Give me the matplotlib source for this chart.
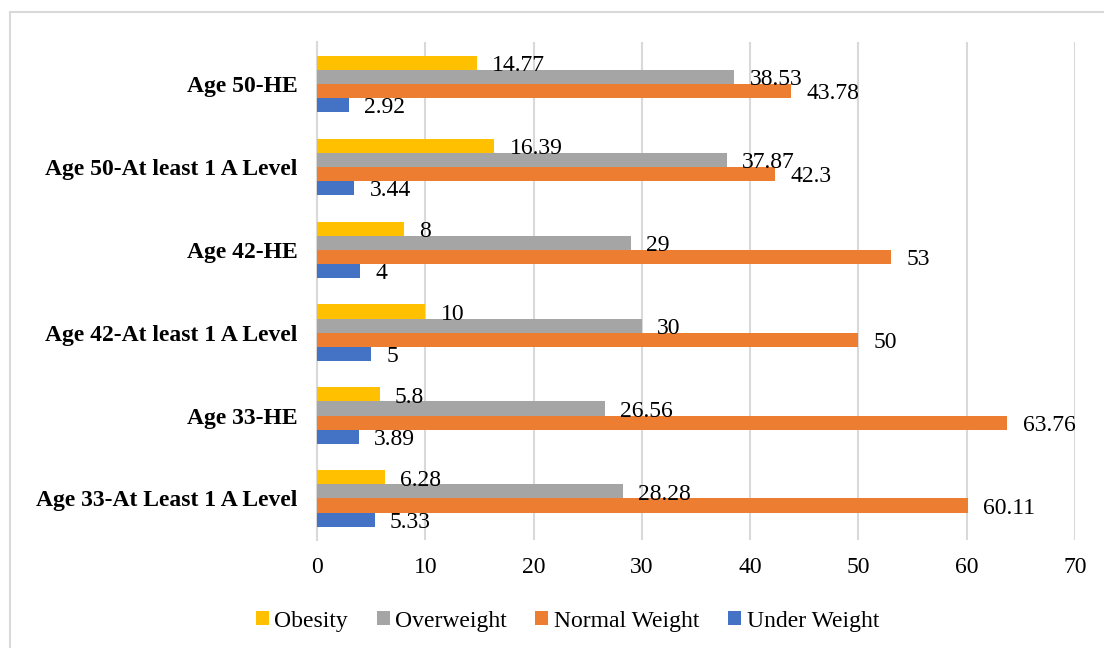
import matplotlib.pyplot as plt
import matplotlib.patches as mpatches
import numpy as np

plt.rcParams['font.family'] = ['Liberation Serif', 'DejaVu Serif']

categories = ['Age 33-At Least 1 A Level', 'Age 33-HE', 'Age 42-At least 1 A Level',
              'Age 42-HE', 'Age 50-At least 1 A Level', 'Age 50-HE']
obesity = [6.28, 5.8, 10, 8, 16.39, 14.77]
overweight = [28.28, 26.56, 30, 29, 37.87, 38.53]
normal = [60.11, 63.76, 50, 53, 42.3, 43.78]
under = [5.33, 3.89, 5, 4, 3.44, 2.92]

series = [('Obesity', obesity, '#FFC000'),
          ('Overweight', overweight, '#A5A5A5'),
          ('Normal Weight', normal, '#ED7D31'),
          ('Under Weight', under, '#4472C4')]

fig = plt.figure(figsize=(11.04, 6.48), dpi=100)
ax = fig.add_axes([0.2871, 0.1667, 0.6866, 0.7683])

# chart border (top/left visible, rest runs off the image)
fig.patches.append(mpatches.Rectangle((10 / 1104, -0.1), 1.2, 1 - 12 / 648 + 0.1,
                                      transform=fig.transFigure, fill=False,
                                      edgecolor='#D9D9D9', linewidth=1.5))

y = np.arange(len(categories))
h = 0.169
offsets = [1.5 * h, 0.5 * h, -0.5 * h, -1.5 * h]
for (name, vals, color), off in zip(series, offsets):
    ax.barh(y + off, vals, height=h, color=color, label=name, zorder=3)
    for v, yy in zip(vals, y + off):
        ax.annotate(f'{v:g}', (v, yy), xytext=(11, -2), textcoords='offset points',
                    ha='left', va='center', fontsize=17, zorder=4)

ax.set_xlim(0, 70)
ax.set_ylim(-0.5, 5.5)
ax.set_xticks(range(0, 71, 10))
ax.set_yticks(y)
ax.set_yticklabels(categories, fontsize=17, fontweight='bold')
ax.tick_params(axis='x', labelsize=17, length=0, pad=12)
ax.tick_params(axis='y', length=0, pad=14)
ax.grid(axis='x', color='#D9D9D9', linewidth=1.5, zorder=0)
for s in ['top', 'right', 'bottom']:
    ax.spines[s].set_visible(False)
ax.spines['left'].set_color('#D9D9D9')
ax.spines['left'].set_linewidth(1.5)

fig.legend(loc='center', bbox_to_anchor=(0.514, 1 - 621 / 648), ncol=4, frameon=False,
           fontsize=17, handlelength=0.55, handleheight=0.55, handletextpad=0.25,
           columnspacing=1.2)

fig.savefig('out.png', dpi=100)
